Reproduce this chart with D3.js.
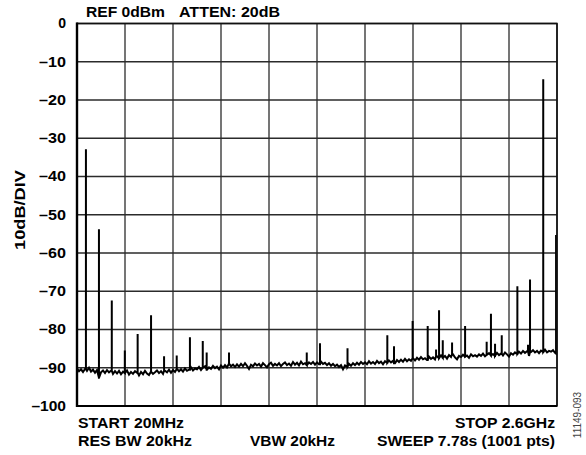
<!DOCTYPE html>
<html><head><meta charset="utf-8">
<script src="https://cdn.jsdelivr.net/npm/d3@7"></script>
<style>
html,body{margin:0;padding:0;background:#fff;}
svg text{font-family:"Liberation Sans",Arial,Helvetica,sans-serif;}
</style></head>
<body>
<svg id="c" width="586" height="455"></svg>
<script>
// ---- data ----
const startMHz = 20, stopMHz = 2600;
const yTicks = [0,-10,-20,-30,-40,-50,-60,-70,-80,-90,-100];
const xDivs = [0,1,2,3,4,5,6,7,8,9,10];
// noise floor (dBm), 241 evenly spaced samples across the sweep
const noise = [
-90.2,-90.9,-90.4,-91.1,-90.3,-90.8,-90.0,-91.0,-90.5,-91.3,-90.6,-92.6,-91.2,-90.7,-91.4,-90.6,-91.2,-90.8,-91.6,-90.9,
-91.5,-90.8,-91.7,-91.0,-91.4,-90.7,-91.8,-91.1,-91.6,-90.9,-91.3,-92.0,-91.1,-91.7,-90.8,-91.5,-91.9,-91.0,-91.6,-91.2,
-90.7,-91.4,-90.9,-91.6,-90.8,-91.2,-90.5,-91.3,-90.6,-91.1,-90.3,-90.9,-90.4,-91.0,-90.2,-90.8,-90.5,-89.9,-90.7,-90.2,
-90.4,-89.8,-90.6,-90.0,-89.6,-90.5,-89.9,-90.3,-89.5,-90.1,-89.7,-90.4,-89.4,-90.0,-89.3,-89.9,-88.9,-89.6,-89.2,-89.8,
-89.1,-89.7,-89.0,-89.6,-88.8,-89.5,-90.3,-89.2,-89.6,-88.9,-89.4,-89.0,-89.7,-88.8,-89.3,-89.9,-89.1,-88.7,-89.5,-89.0,
-89.4,-88.8,-89.6,-89.0,-88.6,-89.3,-88.9,-89.5,-88.5,-89.2,-88.7,-89.4,-88.4,-89.1,-88.8,-89.3,-88.6,-89.0,-88.5,-89.2,
-88.6,-89.1,-88.4,-89.0,-88.7,-89.3,-88.8,-89.5,-89.0,-89.6,-89.2,-89.8,-89.3,-90.4,-89.4,-89.7,-89.0,-89.5,-88.8,-89.3,
-88.7,-89.2,-88.5,-89.0,-88.6,-89.1,-88.3,-88.9,-88.5,-89.0,-88.2,-88.8,-88.4,-89.1,-88.3,-88.7,-88.1,-88.6,-88.2,-88.8,
-88.0,-88.5,-87.9,-88.4,-87.7,-88.3,-87.8,-88.2,-87.5,-88.1,-87.4,-87.9,-87.2,-87.8,-87.5,-88.0,-87.1,-87.7,-87.3,-87.8,
-87.0,-87.5,-86.8,-87.4,-86.9,-87.6,-86.7,-87.2,-86.5,-87.3,-87.8,-86.9,-87.2,-86.6,-87.1,-86.8,-87.4,-86.5,-87.0,-86.7,
-87.1,-86.5,-86.9,-86.3,-87.0,-86.6,-86.2,-86.8,-86.4,-86.9,-86.1,-86.7,-86.3,-86.8,-86.0,-86.5,-87.1,-86.2,-86.6,-86.0,
-86.4,-85.8,-86.3,-85.6,-86.1,-85.7,-86.9,-85.9,-85.4,-86.0,-85.6,-86.2,-85.5,-85.9,-85.3,-86.0,-85.6,-85.8,-85.4,-86.1,-86.3
];
// spurs: frequency (MHz) and peak level (dBm)
const spurFreq = [68,138,207,277,346,418,488,556,627,696,717,837,1255,1326,1474,1688,1724,1824,1905,1950,1966,1986,2036,2106,2222,2245,2267,2303,2387,2444,2455,2526,2595];
const spurLevel = [-32.9,-53.8,-72.4,-85.5,-81.2,-76.3,-87.0,-86.8,-82.0,-83.0,-86.0,-86.0,-86.0,-83.6,-84.9,-81.5,-84.4,-77.8,-79.1,-85.2,-75.0,-82.8,-83.4,-79.1,-83.2,-75.9,-83.7,-81.5,-68.7,-84.0,-66.9,-14.6,-55.3];

// ---- layout ----
const L=77, R=557, T=23.5, B=406;
const svg = d3.select("#c");
const x = d3.scaleLinear().domain([startMHz, stopMHz]).range([L, R]);
const y = d3.scaleLinear().domain([-100, 0]).range([B, T]);
const xDiv = d3.scaleLinear().domain([0,10]).range([L,R]);

// grid
const g = svg.append("g");
g.selectAll("line.v").data(xDivs).join("line")
  .attr("x1", d=>xDiv(d)).attr("x2", d=>xDiv(d)).attr("y1", T).attr("y2", B)
  .attr("stroke", "#2b2b2b").attr("stroke-width", 1.3);
g.selectAll("line.h").data(yTicks).join("line")
  .attr("x1", L).attr("x2", R).attr("y1", d=>y(d)).attr("y2", d=>y(d))
  .attr("stroke", "#2b2b2b").attr("stroke-width", 1.3);

// y axis labels
const yAxis = d3.axisLeft(y).tickValues(yTicks).tickSize(0).tickPadding(11)
  .tickFormat(d => d===0 ? "0" : "\u2013" + Math.abs(d));
const ya = svg.append("g").attr("transform", `translate(${L},0)`).call(yAxis);
ya.select(".domain").remove();
ya.selectAll("text").attr("font-size", 14).attr("font-weight", "bold")
  .attr("fill", "#000").style("font-family", '"Liberation Sans",Arial,sans-serif')
  .each(function(d){
    if (d !== 0) {
      const nd = String(Math.abs(d)).length;
      d3.select(this).attr("textLength", 11.5 + 7.7*nd).attr("lengthAdjust","spacingAndGlyphs");
    }
  });

// trace
const pts = [];
const step = (stopMHz - startMHz) / (noise.length - 1);
noise.forEach((v,i) => pts.push({f: startMHz + i*step, v}));
spurFreq.forEach((f,i) => {
  const k = Math.max(0, Math.min(noise.length-1, Math.round((f-startMHz)/step)));
  const base = noise[k];
  pts.push({f: f-0.01, v: base}, {f, v: spurLevel[i]}, {f: f+0.01, v: base});
});
pts.sort((a,b)=>a.f-b.f);
svg.append("path").datum(pts)
  .attr("d", d3.line().x(d=>x(d.f)).y(d=>y(d.v)))
  .attr("fill","none").attr("stroke","#000").attr("stroke-width",2.0)
  .attr("stroke-linejoin","miter");

// border
svg.append("path")
  .attr("d", `M${L},${T}H${R}V${B}H${L}Z`)
  .attr("fill","none").attr("stroke","#111").attr("stroke-width",1.6);
svg.append("line").attr("x1",L).attr("x2",L).attr("y1",T-1).attr("y2",B+1)
  .attr("stroke","#000").attr("stroke-width",2.4);
svg.append("line").attr("x1",L).attr("x2",R).attr("y1",B).attr("y2",B)
  .attr("stroke","#000").attr("stroke-width",2.2);

// texts
const txt = (s, xx, yy, anchor, len) => {
  const t = svg.append("text")
    .attr("x", xx).attr("y", yy).attr("text-anchor", anchor||"start")
    .attr("font-size", 14.5).attr("font-weight", "bold")
    .attr("fill", "#000").text(s);
  if (len) t.attr("textLength", len).attr("lengthAdjust","spacingAndGlyphs");
  return t;
};
txt("REF 0dBm", 86, 17, "start", 79);
txt("ATTEN: 20dB", 179, 17, "start", 101);
txt("START 20MHz", 78, 428, "start", 106);
txt("RES BW 20kHz", 78, 446, "start", 114);
txt("VBW 20kHz", 250, 446, "start", 85);
txt("STOP 2.6GHz", 555, 428, "end", 100);
txt("SWEEP 7.78s (1001 pts)", 555, 446, "end", 178);
svg.append("text").attr("transform","translate(25,210) rotate(-90)")
  .attr("text-anchor","middle").attr("font-size",14).attr("font-weight","bold")
  .attr("textLength",80).attr("lengthAdjust","spacingAndGlyphs").text("10dB/DIV");
svg.append("text").attr("transform","translate(581,415) rotate(-90)")
  .attr("text-anchor","middle").attr("font-size",10).attr("fill","#444").text("11149-093");
</script>
</body></html>
